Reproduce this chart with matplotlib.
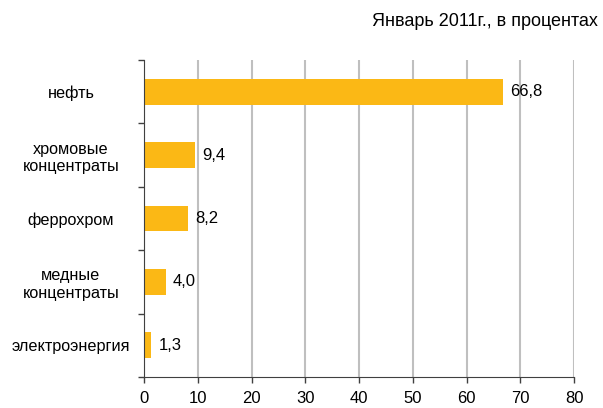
import matplotlib
matplotlib.use("Agg")
import matplotlib.pyplot as plt

plt.rcParams['font.family'] = ['Liberation Sans', 'DejaVu Sans']

categories = ["нефть", "хромовые\nконцентраты", "феррохром", "медные\nконцентраты", "электроэнергия"]
values = [66.8, 9.4, 8.2, 4.0, 1.3]
xticks = [0, 10, 20, 30, 40, 50, 60, 70, 80]
title = "Январь 2011г., в процентах"

bar_color = "#FBB815"
grid_color = "#BFBFBF"

fig = plt.figure(figsize=(6.03, 4.08), dpi=100)
ax = fig.add_axes([144/603, 31/408, 430/603, 317/408])

n = len(categories)
ypos = list(range(n))
ax.barh(ypos, values, height=0.41, color=bar_color, zorder=3)
ax.set_ylim(n - 0.5, -0.5)
ax.set_xlim(0, 80)

ax.set_xticks(xticks)
ax.set_xticklabels([str(t) for t in xticks], fontsize=12)
ax.set_yticks(ypos)
ax.set_yticklabels(categories, fontsize=11.7, ha='center', multialignment='center')
# center labels at ~71 px from left edge (73 px left of the axis)
ax.tick_params(axis='y', length=0, pad=73 * 72 / 100)
ax.set_yticks([i - 0.5 for i in range(n + 1)], minor=True)
ax.tick_params(axis='y', which='minor', length=4, width=1, direction='out', color='#404040')
ax.tick_params(axis='x', length=4, width=1, direction='out', color='#404040', pad=6)

ax.xaxis.grid(True, color=grid_color, linewidth=1.5, zorder=0)
ax.set_axisbelow(True)
for s in ['top', 'right']:
    ax.spines[s].set_visible(False)
ax.spines['left'].set_color('#404040')
ax.spines['bottom'].set_color('#404040')
ax.spines['left'].set_zorder(4)

for y, v in zip(ypos, values):
    ax.text(v + 1.4, y, f"{v:.1f}".replace('.', ','), va='center', ha='left', fontsize=12)

fig.text(598/603, 1 - 22/408, title, ha='right', va='center', fontsize=13)

fig.savefig("out.png", dpi=100)
